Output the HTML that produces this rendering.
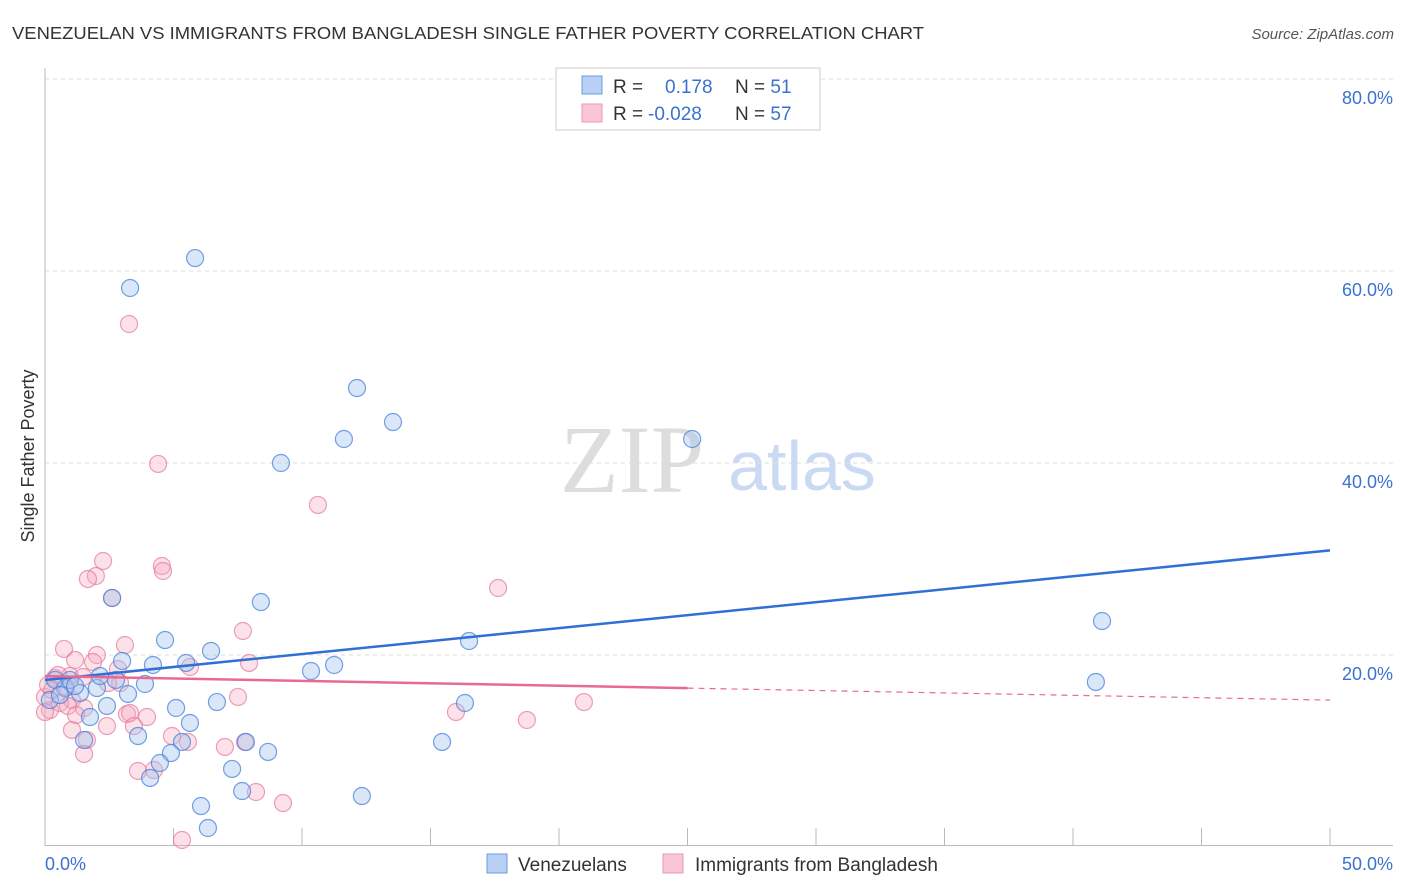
<!DOCTYPE html>
<html><head><meta charset="utf-8"><style>
body{margin:0;background:#fff;font-family:"Liberation Sans",sans-serif}
svg{display:block}
</style></head><body>
<svg id="chart" width="1406" height="892" font-family="Liberation Sans, sans-serif">
<text x="12" y="39" font-size="17.5" fill="#333" textLength="912" lengthAdjust="spacingAndGlyphs">VENEZUELAN VS IMMIGRANTS FROM BANGLADESH SINGLE FATHER POVERTY CORRELATION CHART</text>
<text x="1394" y="39" font-size="15" fill="#555" font-style="italic" text-anchor="end">Source: ZipAtlas.com</text>
<text x="632" y="492" font-size="96" fill="#ddd" font-family="Liberation Serif, serif" text-anchor="middle">ZIP</text>
<text x="802" y="490" font-size="70" fill="#c9daf2" text-anchor="middle">atlas</text>
<g id="grid"></g>
<g id="axes"></g>
<g id="pts"></g>
<g id="lines"></g>
<text transform="translate(34,456) rotate(-90)" font-size="18" fill="#333" text-anchor="middle">Single Father Poverty</text>
<g>
<rect x="556" y="68" width="264" height="62" fill="#fff" stroke="#ccc"/>
<rect x="582" y="76" width="20" height="18" fill="#b7d0f3" stroke="#6d9be0"/>
<rect x="582" y="104" width="20" height="18" fill="#f8c6d4" stroke="#e99ab2"/>
<text x="613" y="93" font-size="19" fill="#333">R = <tspan fill="#3a72d0" x="665">0.178</tspan><tspan x="735">N = </tspan><tspan fill="#3a72d0">51</tspan></text>
<text x="613" y="120" font-size="19" fill="#333">R = <tspan fill="#3a72d0" x="648">-0.028</tspan><tspan x="735">N = </tspan><tspan fill="#3a72d0">57</tspan></text>
</g>
<g>
<rect x="487" y="854" width="20" height="19" fill="#b7d0f3" stroke="#6d9be0"/>
<text x="518" y="871" font-size="19" fill="#333">Venezuelans</text>
<rect x="663" y="854" width="20" height="19" fill="#f8c6d4" stroke="#e99ab2"/>
<text x="695" y="871" font-size="19" fill="#333">Immigrants from Bangladesh</text>
</g>
</svg>
<script>
const blueX=[5.84,3.31,12.14,13.54,11.63,25.18,9.18,2.61,8.40,41.13,4.67,16.50,6.46,3.00,4.20,5.49,11.25,10.35,40.89,3.89,2.02,3.23,1.36,0.78,0.39,0.97,2.14,2.76,6.69,16.34,5.10,2.41,1.75,5.64,3.62,1.52,5.33,15.45,7.82,8.68,4.90,4.47,7.28,4.09,7.67,12.33,6.07,6.34,0.19,0.58,1.17];
const blueY=[61.35,58.23,47.81,44.27,42.5,42.5,40.0,25.94,25.52,23.54,21.56,21.46,20.42,19.38,18.96,19.17,18.96,18.33,17.19,16.98,16.56,15.94,16.04,16.56,17.40,17.40,17.81,17.40,15.10,15.0,14.48,14.69,13.54,12.92,11.56,11.15,10.94,10.94,10.94,9.90,9.79,8.75,8.13,7.19,5.83,5.31,4.27,1.98,15.31,15.83,16.77];
const pinkX=[3.27,4.40,10.62,2.26,1.98,1.67,4.55,4.59,17.63,2.61,7.70,3.11,0.74,2.02,1.17,1.87,7.94,5.64,2.84,2.92,0.39,0.97,1.48,1.05,0.19,0.58,0,0.89,1.52,7.51,20.97,3.19,3.97,3.31,3.46,2.41,1.05,1.63,15.99,18.75,4.94,5.56,7.0,7.78,1.52,3.62,4.24,8.21,9.26,5.33,0.27,0.12,0.51,0.82,2.45,1.21,0.0];
const pinkY=[54.48,39.90,35.63,29.79,28.23,27.92,29.27,28.75,26.98,25.94,22.5,21.04,20.63,20.0,19.48,19.27,19.17,18.75,18.54,17.08,17.60,17.81,17.71,15.31,14.27,15.0,15.63,14.69,14.48,15.63,15.10,13.85,13.54,13.96,12.60,12.60,12.19,11.15,14.06,13.23,11.56,10.94,10.42,10.94,9.69,7.92,8.02,5.73,4.58,0.73,16.35,16.88,17.92,16.67,17.08,13.75,14.06];
const blueTrend=[17.4,30.9];
const pinkTrend=[17.8,15.3];
const pinkSolidEnd=25;
const yTicks=[20,40,60,80];
const yTickLabels=["20.0%","40.0%","60.0%","80.0%"];
const xTickVals=[0,5,10,15,20,25,30,35,40,45,50];
const NS="http://www.w3.org/2000/svg";
const xs=v=>45+v*25.7, ys=v=>847-v*9.6;
function mk(tag,a,parent){const e=document.createElementNS(NS,tag);for(const k in a)e.setAttribute(k,a[k]);document.getElementById(parent).appendChild(e);return e;}
yTicks.forEach((t,i)=>{
 const l=mk('line',{x1:45,x2:1393,y1:ys(t),y2:ys(t),stroke:'#ddd','stroke-dasharray':'4,4'},'grid');
 
 
 const tx=mk('text',{x:1393,y:ys(t)+25,'font-size':18,fill:'#3a72d0','text-anchor':'end'},'grid');
 tx.textContent=yTickLabels[i];
 
 
});
let a=mk('line',{x1:45,x2:45,y1:68,y2:846,stroke:'#bbb'},'axes');


a=mk('line',{x1:45,x2:1393,y1:845.5,y2:845.5,stroke:'#bbb'},'axes');


xTickVals.forEach(t=>{
 const l=mk('line',{x1:xs(t),x2:xs(t),y1:828,y2:845,stroke:'#bbb'},'axes');
 
 
});
let t0=mk('text',{x:45,y:870,'font-size':18,fill:'#3a72d0'},'axes');t0.textContent='0.0%';


t0=mk('text',{x:1393,y:870,'font-size':18,fill:'#3a72d0','text-anchor':'end'},'axes');t0.textContent='50.0%';


function pts(X,Y,fill,stroke,name){X.forEach((x,i)=>{
 const c=mk('circle',{cx:xs(x),cy:ys(Y[i]),r:8.5,fill:fill,stroke:stroke,'stroke-width':1.2},'pts');
 
 
});}
pts(pinkX,pinkY,'rgba(245,170,192,0.35)','rgba(228,120,155,0.7)','bangladesh-point');
pts(blueX,blueY,'rgba(160,195,240,0.4)','rgba(70,130,215,0.75)','venezuelan-point');
let ln=mk('line',{x1:xs(0),y1:ys(blueTrend[0]),x2:xs(50),y2:ys(blueTrend[1]),stroke:'#2f6fd6','stroke-width':2.5},'lines');


const pm=pinkTrend[0]+(pinkTrend[1]-pinkTrend[0])*pinkSolidEnd/50;
ln=mk('line',{x1:xs(0),y1:ys(pinkTrend[0]),x2:xs(pinkSolidEnd),y2:ys(pm),stroke:'#e86a94','stroke-width':2.5},'lines');


ln=mk('line',{x1:xs(pinkSolidEnd),y1:ys(pm),x2:xs(50),y2:ys(pinkTrend[1]),stroke:'#e86a94','stroke-width':1.2,'stroke-dasharray':'6,5'},'lines');


</script>
</body></html>
